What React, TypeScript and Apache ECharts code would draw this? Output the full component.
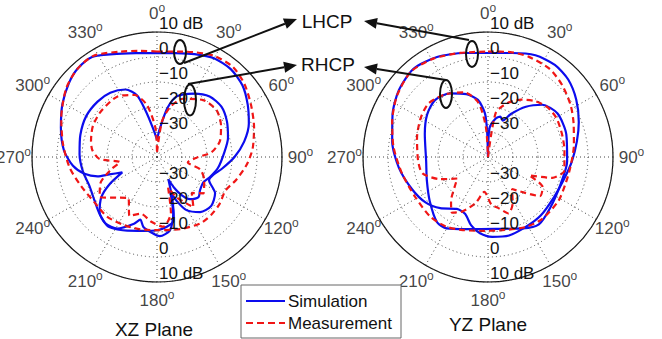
import React, { useEffect, useRef } from 'react';
import * as echarts from 'echarts';

// ---------- data (angle in degrees clockwise from top, value in dB) ----------
const angleTicks = [0, 30, 60, 90, 120, 150, 180, 210, 240, 270, 300, 330];
const radialTicks = [-40, -30, -20, -10, 0, 10];

const xzLhcpSim: [number, number][] = [
  [0, 1.6], [10, 2.2], [20, 3.8], [30, 5.6], [40, 5.9], [50, 4.6], [60, 1.9], [70, -0.9], [80, -4.6],
  [90, -9], [100, -13.5], [108, -16.5], [114, -17.2], [122, -12.6], [132, -10.8], [142, -12], [151, -15.7],
  [156, -20.9], [159, -25.5], [164, -16.4], [170, -10.2], [178, -8.3], [185, -9.9], [191, -11.5], [195, -14.1],
  [199, -11.8], [209, -7.3], [218, -6.4], [226, -8.1], [234, -12.4], [240, -18], [246, -24.8], [250, -19.7],
  [252, -15], [257, -10.2], [264, -6.2], [274, -2.7], [287, 0.2], [299, 3.3], [310, 6.0], [318, 7.5],
  [327, 7.7], [337, 4.7], [349, 2.3],
];
const xzLhcpMeas: [number, number][] = [
  [0, 2.2], [16, 3.8], [29, 6.4], [40, 7.1], [50, 5.6], [61, 3], [73, 0.6], [85, -1.6], [95, -4],
  [106, -7], [116, -9.5], [127, -8.7], [137, -8.3], [147, -8.3], [162, -9.7], [177, -10.7], [193, -10.3],
  [206, -9.7], [220, -8.9], [234, -9.1], [249, -7.5], [263, -4.8], [278, -2], [292, 1.3], [307, 5.5],
  [318, 7.5], [328, 7.8], [341, 4.6], [351, 3],
];
const xzRhcpSim: [number, number][] = [
  [0, -33], [6, -28.3], [12, -20], [18, -14.5], [30, -10.7], [41, -7.9], [52, -7.3], [63, -8.6], [75, -10.6],
  [86, -13], [100, -15.2], [111, -17.4], [119, -18.9], [128, -18.2], [134, -16.9], [142, -18.6], [147, -21.7],
  [151, -26.2], [153, -30], [160, -22], [165, -13.9], [172, -11.8], [180, -10.7], [190, -10], [202, -8.2],
  [215, -6], [225, -7.6], [235, -9.5], [247, -10.6], [259, -9.8], [272, -9], [286, -8.1], [300, -7.3],
  [313, -7.5], [324, -8.2], [335, -10.2], [342, -14], [346, -20.6], [352, -28.3],
];
const xzRhcpMeas: [number, number][] = [
  [0, -38], [8, -25.6], [15, -19.2], [24, -14.5], [39, -10.7], [52, -9.7], [64, -11.5], [76, -14.1],
  [85, -18.1], [91, -24.2], [100, -27.5], [106, -22], [116, -19], [128, -16.4], [136, -20], [144, -15.2],
  [154, -22], [160, -27], [166, -17], [175, -12], [185, -14], [196, -16.4], [205, -14], [215, -20],
  [225, -17], [235, -12], [245, -15], [255, -21], [262, -25], [268, -17], [276, -14], [284, -12.8],
  [296, -11.5], [309, -11.1], [327, -11.1], [340, -13.6], [349, -18.8], [357, -28.4],
];

const yzLhcpSim: [number, number][] = [
  [0, 1.6], [13, 2.7], [25, 4.9], [36, 5.5], [46, 4.6], [57, 2.1], [69, -1.1], [80, -3.9], [93, -6.4],
  [106, -8.3], [121, -9.1], [138, -8.5], [152, -8.2], [165, -7.5], [177, -8], [186, -9.3], [194, -11.9],
  [202, -15.5], [211, -15.8], [223, -12], [234, -9.1], [247, -7], [263, -4.1], [279, -1.2], [294, 1.8],
  [307, 4.6], [320, 6.2], [333, 4.9], [347, 2.7],
];
const yzLhcpMeas: [number, number][] = [
  [0, 2.2], [12, 2.9], [22, 3.3], [35, 3], [46, 1.3], [58, -1], [69, -3.3], [82, -5.3], [97, -6.8],
  [109, -7.2], [122, -6.8], [139, -7.1], [152, -8.2], [169, -10.2], [184, -10.4], [199, -9.1], [211, -7.5],
  [224, -6.8], [241, -6.8], [259, -5], [276, -2], [290, 0.8], [304, 3.9], [318, 6], [331, 5], [345, 3.1],
];
const yzRhcpSim: [number, number][] = [
  [0, -40], [3, -28.4], [11, -24.4], [17, -23.1], [22, -24.3], [28, -20.5], [37, -14.8], [46, -9.9],
  [58, -7.2], [74, -7.4], [93, -8.3], [110, -9], [129, -7.9], [143, -6.2], [154, -8.2], [174, -11.1],
  [197, -9.8], [210, -7], [218, -6.9], [233, -10.8], [249, -13.8], [266, -15.2], [290, -13.1], [305, -10.3],
  [317, -8.9], [329, -10.3], [341, -13.4], [350, -16.8], [356, -22.5], [358, -29.7],
];
const yzRhcpMeas: [number, number][] = [
  [0, -40], [10, -22], [20, -17], [30, -13.5], [40, -10.8], [50, -9], [60, -8.5], [72, -9], [85, -9.3],
  [100, -9], [108, -13], [114, -22], [119, -15], [127, -14], [135, -20], [143, -24], [152, -19], [160, -16],
  [168, -19], [176, -21], [186, -26], [195, -21], [205, -16], [213, -13.5], [220, -17], [228, -22],
  [235, -25], [245, -19], [256, -13], [267, -12], [285, -10.6], [300, -8.9], [312, -8], [326, -9.7],
  [340, -12.5], [350, -18], [356, -28],
];

// ---------- styling ----------
const FONT = "'Liberation Sans', Arial, Helvetica, sans-serif";
const BLUE = '#0c0cee';
const RED = '#f01616';
const INK = '#111111';
const R_MIN = radialTicks[0];
const R_MAX = radialTicks[radialTicks.length - 1];
const LABEL_R = 17.4; // angle labels sit just outside the outer ring
const CX_L = 157;
const CX_R = 488;
const CY = 157;
const RADIUS = 125;

const closed = (pts: [number, number][]) => {
  const d = pts.map(([a, v]) => [Math.max(v, R_MIN), a]);
  d.push([d[0][0], pts[0][0] + 360]);
  return d;
};

const fmtR = (v: number) =>
  v === R_MAX ? '10 dB' : v === R_MIN ? '' : v < 0 ? '\u2212' + Math.abs(v) : String(v);

const dotted = { color: '#444', width: 1, type: [1, 3] as any };

function angleAxisMain(polarIndex: number) {
  return {
    polarIndex, startAngle: 90, clockwise: true, min: 0, max: 360, interval: 30,
    axisLine: { show: true, lineStyle: { color: INK, width: 1.2 } },
    axisTick: { show: false }, axisLabel: { show: false },
    splitLine: { show: true, lineStyle: dotted },
  };
}
function angleAxisHidden(polarIndex: number) {
  return { polarIndex, startAngle: 270, clockwise: true, min: 0, max: 360, show: false };
}
function radiusAxisMain(polarIndex: number) {
  return {
    polarIndex, min: R_MIN, max: R_MAX, interval: 10,
    axisLine: { show: false }, axisTick: { show: false },
    splitLine: { show: true, lineStyle: dotted },
    axisLabel: {
      show: true, formatter: fmtR, align: 'left', verticalAlign: 'bottom', margin: -2,
      color: INK, fontSize: 17, fontFamily: FONT,
    },
    z: 5,
  };
}
function radiusAxisBottom(polarIndex: number) {
  return {
    polarIndex, min: R_MIN, max: R_MAX, interval: 10,
    axisLine: { show: false }, axisTick: { show: false }, splitLine: { show: false },
    axisLabel: {
      show: true, formatter: fmtR, align: 'left', verticalAlign: 'bottom', margin: 2,
      color: INK, fontSize: 17, fontFamily: FONT,
    },
    z: 5,
  };
}

const lineSeries = (name: string, data: [number, number][], polarIndex: number, meas: boolean) => ({
  type: 'line', name, coordinateSystem: 'polar', polarIndex, data: closed(data),
  symbol: 'none', smooth: 0.25, clip: false, silent: true,
  lineStyle: { color: meas ? RED : BLUE, width: 2.2, type: meas ? [6, 4] : 'solid' },
  z: meas ? 4 : 3,
});

const angleLabelSeries = (polarIndex: number) => ({
  type: 'scatter', coordinateSystem: 'polar', polarIndex, symbol: 'circle', symbolSize: 1,
  silent: true, clip: false,
  itemStyle: { color: 'rgba(0,0,0,0)' },
  data: angleTicks.map((a) => [LABEL_R, a]),
  label: {
    show: true, position: 'inside', color: INK,
    formatter: (p: any) => `{n|${p.value[1]}}{s|o}`,
    rich: {
      n: { fontSize: 17, fontFamily: FONT, color: INK },
      s: { fontSize: 12, fontFamily: FONT, color: INK, padding: [0, 0, 11, 0] },
    },
  },
  z: 6,
});

const txt = (text: string, x: number, y: number, size: number, align = 'center') => ({
  type: 'text', x, y, z: 20,
  style: {
    text, fill: INK, fontSize: size, fontFamily: FONT,
    align, verticalAlign: 'middle', textAlign: align, textVerticalAlign: 'middle',
  },
});
const ellipse = (cx: number, cy: number, rx: number, ry: number) => ({
  type: 'ellipse', z: 20, shape: { cx, cy, rx, ry },
  style: { fill: 'none', stroke: INK, lineWidth: 2 },
});
const arrow = (x1: number, y1: number, x2: number, y2: number) => {
  const ang = Math.atan2(y2 - y1, x2 - x1);
  const L = 13, W = 5.5;
  const bx = x2 - L * Math.cos(ang), by = y2 - L * Math.sin(ang);
  return [
    { type: 'line', z: 20, shape: { x1, y1, x2: bx, y2: by }, style: { stroke: INK, lineWidth: 2 } },
    {
      type: 'polygon', z: 20,
      shape: { points: [[x2, y2], [bx - W * Math.sin(ang), by + W * Math.cos(ang)], [bx + W * Math.sin(ang), by - W * Math.cos(ang)]] },
      style: { fill: INK },
    },
  ];
};

const option: any = {
  animation: false,
  backgroundColor: '#fff',
  polar: [
    { center: [CX_L, CY], radius: RADIUS },
    { center: [CX_L, CY], radius: RADIUS },
    { center: [CX_R, CY], radius: RADIUS },
    { center: [CX_R, CY], radius: RADIUS },
  ],
  angleAxis: [angleAxisMain(0), angleAxisHidden(1), angleAxisMain(2), angleAxisHidden(3)],
  radiusAxis: [radiusAxisMain(0), radiusAxisBottom(1), radiusAxisMain(2), radiusAxisBottom(3)],
  series: [
    lineSeries('Simulation', xzLhcpSim, 0, false),
    lineSeries('Simulation', xzRhcpSim, 0, false),
    lineSeries('Measurement', xzLhcpMeas, 0, true),
    lineSeries('Measurement', xzRhcpMeas, 0, true),
    lineSeries('Simulation', yzLhcpSim, 2, false),
    lineSeries('Simulation', yzRhcpSim, 2, false),
    lineSeries('Measurement', yzLhcpMeas, 2, true),
    lineSeries('Measurement', yzRhcpMeas, 2, true),
    angleLabelSeries(0),
    angleLabelSeries(2),
  ],
  graphic: [
    txt('XZ Plane', 154, 329, 19),
    txt('YZ Plane', 488, 324, 19),
    txt('LHCP', 327, 21, 19),
    txt('RHCP', 328, 64, 19),
    ellipse(180, 52, 6, 12),
    ellipse(190, 100, 6, 15.5),
    ellipse(472, 54, 6, 13),
    ellipse(446, 94, 6, 14),
    ...arrow(184, 63, 297, 19),
    ...arrow(188, 84, 297, 65),
    ...arrow(469, 40, 364, 21),
    ...arrow(446, 80, 364, 67),
    // legend box
    {
      type: 'rect', z: 20, shape: { x: 241, y: 285, width: 160, height: 53 },
      style: { fill: '#fff', stroke: '#666', lineWidth: 1 },
    },
    { type: 'line', z: 21, shape: { x1: 246, y1: 301, x2: 285, y2: 301 }, style: { stroke: BLUE, lineWidth: 2 } },
    { type: 'line', z: 21, shape: { x1: 246, y1: 323, x2: 285, y2: 323 }, style: { stroke: RED, lineWidth: 2, lineDash: [7, 4] } },
    txt('Simulation', 288, 301, 17, 'left'),
    txt('Measurement', 288, 323, 17, 'left'),
  ],
};

export default function App() {
  const ref = useRef<HTMLDivElement>(null);
  useEffect(() => {
    const chart = echarts.init(ref.current as HTMLDivElement, undefined, { renderer: 'svg' });
    chart.setOption(option);
    return () => chart.dispose();
  }, []);
  return (
    <div
      ref={ref}
      style={{ position: 'fixed', left: 0, top: 0, width: 662, height: 339, background: '#fff' }}
    />
  );
}
